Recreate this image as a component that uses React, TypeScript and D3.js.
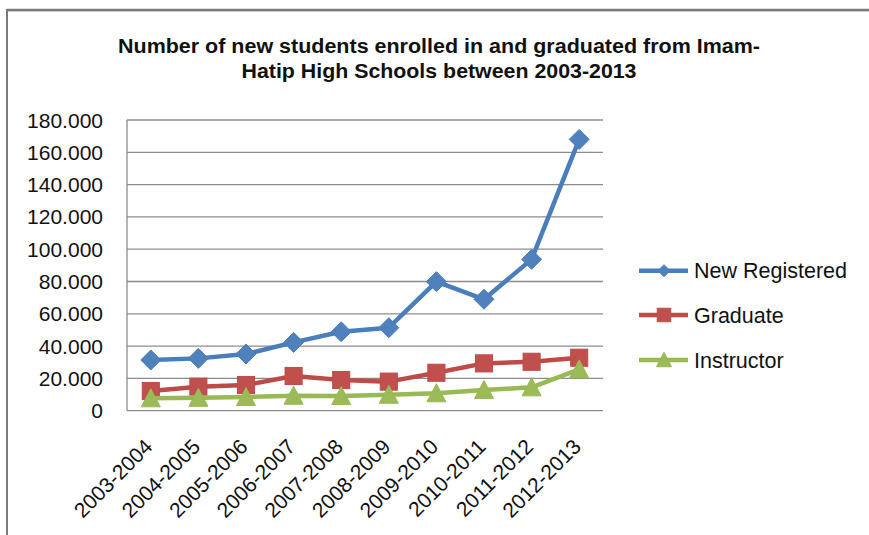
import React from "react";
import * as d3 from "d3";

const categories = ["2003-2004","2004-2005","2005-2006","2006-2007","2007-2008","2008-2009","2009-2010","2010-2011","2011-2012","2012-2013"];
const newRegistered = [31400, 32400, 35100, 42300, 48900, 51400, 79900, 69000, 93700, 168000];
const graduate = [12200, 14900, 15900, 21500, 19000, 18000, 23500, 29300, 30300, 32800];
const instructor = [7700, 8000, 8500, 9300, 9100, 9900, 10800, 12800, 14500, 25600];
const yTicks = [0, 20000, 40000, 60000, 80000, 100000, 120000, 140000, 160000, 180000];
const titleLines = ["Number of new students enrolled in and graduated from Imam-", "Hatip High Schools between 2003-2013"];

const seriesDefs = [
  { name: "New Registered", values: newRegistered, line: "#4A7EBB", fill: "#4F81BD", shape: "diamond" },
  { name: "Graduate", values: graduate, line: "#BE4B48", fill: "#C0504D", shape: "square" },
  { name: "Instructor", values: instructor, line: "#98B954", fill: "#9BBB59", shape: "triangle" },
];

const W = 869, H = 535;
const plot = { left: 127, right: 603, top: 120, bottom: 410.7 };
const FONT = "'Liberation Sans', Arial, sans-serif";

const fmt = d3.formatLocale({ decimal: ",", thousands: ".", grouping: [3], currency: ["", ""] }).format(",");

function Marker({ shape, x, y, fill, stroke, size }: any) {
  if (shape === "diamond") {
    const r = size / 2;
    return <path d={`M${x},${y - r}L${x + r},${y}L${x},${y + r}L${x - r},${y}Z`} fill={fill} stroke={stroke} strokeWidth={1} />;
  }
  if (shape === "square") {
    const s = size * 0.9;
    return <rect x={x - s / 2} y={y - s / 2} width={s} height={s} fill={fill} stroke={stroke} strokeWidth={1} />;
  }
  const w = size, h = size * 0.9;
  return <path d={`M${x},${y - h / 2 - 1}L${x + w / 2},${y + h / 2}L${x - w / 2},${y + h / 2}Z`} fill={fill} stroke={stroke} strokeWidth={1} />;
}

export default function App() {
  const x = d3.scaleBand<string>().domain(categories).range([plot.left, plot.right]);
  const y = d3.scaleLinear().domain([0, 180000]).range([plot.bottom, plot.top]);
  const cx = (c: string) => (x(c) as number) + x.bandwidth() / 2;
  const line = d3.line<number>().x((_, i) => cx(categories[i])).y((v) => y(v));

  const legendY = [270.7, 315, 360];

  return (
    <svg width={W} height={H} style={{ position: "absolute", left: 0, top: 0, background: "#fff" }} fontFamily={FONT}>
      <rect x={0} y={0} width={W} height={H} fill="#fff" />
      {/* frame */}
      <line x1={7} y1={10} x2={W} y2={10} stroke="#7a7a7a" strokeWidth={2.5} />
      <line x1={7} y1={11.5} x2={W} y2={11.5} stroke="#c8c8c8" strokeWidth={1} />
      <line x1={7} y1={9} x2={7} y2={H} stroke="#7a7a7a" strokeWidth={2} />

      {/* title */}
      <text x={439} y={53} textAnchor="middle" fontWeight="bold" fontSize={19.5} fill="#111" textLength={642} lengthAdjust="spacingAndGlyphs">{titleLines[0]}</text>
      <text x={439} y={78} textAnchor="middle" fontWeight="bold" fontSize={19.5} fill="#111" textLength={395} lengthAdjust="spacingAndGlyphs">{titleLines[1]}</text>

      {/* gridlines */}
      {yTicks.map((t) => (
        <line key={t} x1={plot.left} x2={plot.right} y1={y(t)} y2={y(t)} stroke="#8c8c8c" strokeWidth={1.3} />
      ))}
      <line x1={plot.left} x2={plot.left} y1={plot.top} y2={plot.bottom} stroke="#8c8c8c" strokeWidth={1.3} />

      {/* y labels */}
      {yTicks.map((t) => (
        <text key={t} x={103} y={y(t)} dy="0.36em" textAnchor="end" fontSize={21} fill="#111">{fmt(t)}</text>
      ))}

      {/* x labels */}
      {categories.map((c) => (
        <text key={c} transform={`translate(${cx(c) + 3},448) rotate(-45)`} textAnchor="end" fontSize={21} fill="#111">{c}</text>
      ))}

      {/* series */}
      {seriesDefs.map((s) => (
        <g key={s.name}>
          <path d={line(s.values) as string} fill="none" stroke={s.line} strokeWidth={4.5} strokeLinejoin="round" strokeLinecap="round" />
          {s.values.map((v, i) => (
            <Marker key={i} shape={s.shape} x={cx(categories[i])} y={y(v)} fill={s.fill} stroke={s.line} size={s.shape === "diamond" ? 20 : 19} />
          ))}
        </g>
      ))}

      {/* legend */}
      {seriesDefs.map((s, i) => (
        <g key={s.name}>
          <line x1={639} x2={688} y1={legendY[i]} y2={legendY[i]} stroke={s.line} strokeWidth={4.5} />
          <Marker shape={s.shape} x={664} y={legendY[i]} fill={s.fill} stroke={s.line} size={s.shape === "diamond" ? 12 : 15} />
          <text x={694} y={legendY[i]} dy="0.36em" fontSize={21.5} fill="#111">{s.name}</text>
        </g>
      ))}
    </svg>
  );
}
